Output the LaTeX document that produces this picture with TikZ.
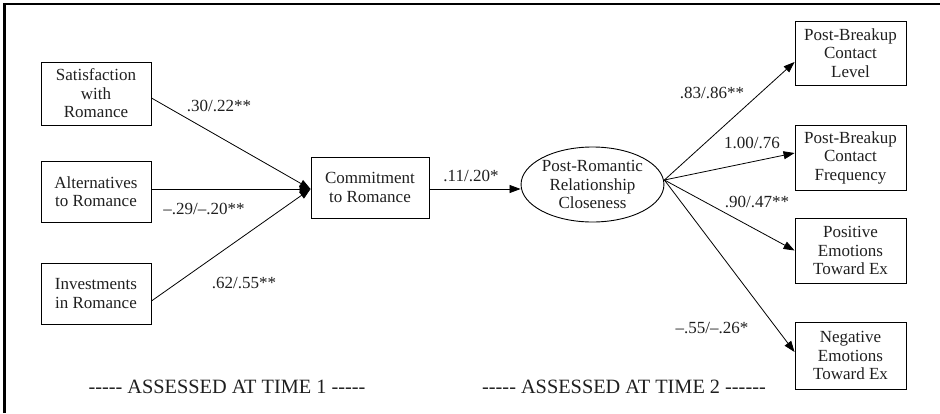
\documentclass[tikz,border=0pt]{standalone}
\usepackage{fontspec}
\setmainfont{Liberation Serif}
\usetikzlibrary{arrows.meta,shapes.geometric}
\newcommand{\hy}{-\kern0pt}
\newcommand{\fivehy}{\hy\hy\hy\hy\hy}
\begin{document}
\begin{tikzpicture}[x=1pt,y=-1pt,
  every node/.style={font=\fontsize{17}{18.5}\selectfont, text=black!88},
  box/.style={draw, line width=0.9pt, align=center, inner sep=0pt},
  lbl/.style={inner sep=0pt},
  note/.style={inner sep=0pt, font=\fontsize{20.3}{22}\selectfont},
  arr/.style={line width=0.8pt, -{Triangle[length=11pt,width=8pt]}}]
\useasboundingbox (0,0) rectangle (940,413);
\draw[line width=2.2pt] (4.5,413) -- (4.5,4) -- (940,4);
% left boxes
\node[box, minimum width=110pt, minimum height=63pt] (sat) at (96,93.5) {Satisfaction\\with\\Romance};
\node[box, minimum width=110pt, minimum height=61pt] (alt) at (96,191.5) {Alternatives\\to Romance};
\node[box, minimum width=110pt, minimum height=61pt] (inv) at (96,293.5) {Investments\\in Romance};
\node[box, minimum width=118pt, minimum height=61pt] (com) at (370,187.5) {Commitment\\to Romance};
\node[draw, ellipse, line width=0.9pt, inner sep=0pt, minimum width=139pt, minimum height=75pt, align=center] (ell) at (592.5,184.5) {Post-Romantic\\Relationship\\Closeness};
% right boxes
\node[box, minimum width=111pt, minimum height=64pt] (r1) at (850.5,53) {Post-Breakup\\Contact\\Level};
\node[box, minimum width=111pt, minimum height=65pt] (r2) at (850.5,157.5) {Post-Breakup\\Contact\\Frequency};
\node[box, minimum width=111pt, minimum height=65pt] (r3) at (850.5,250.5) {Positive\\Emotions\\Toward Ex};
\node[box, minimum width=111pt, minimum height=67pt] (r4) at (850.5,355.5) {Negative\\Emotions\\Toward Ex};
% connectors
\draw[arr] ([yshift=-4.5pt]sat.east) -- ([yshift=-1.5pt]com.west);
\draw[arr] ([yshift=2.5pt]alt.east) -- ([yshift=-1.5pt]com.west);
\draw[arr] ([yshift=-7.5pt]inv.east) -- ([yshift=-1.5pt]com.west);
\draw[arr] ([yshift=-1.5pt]com.east) -- ([yshift=-4.5pt]ell.west);
\coordinate (eo) at ([yshift=4.5pt]ell.east);
\draw[arr] (eo) -- ([yshift=-9pt]r1.west);
\draw[arr] (eo) -- ([yshift=4.5pt]r2.west);
\draw[arr] (eo) -- (r3.west);
\draw[arr] (eo) -- ([yshift=3.5pt]r4.west);
% labels
\node[lbl] (l1) at (219,106) {.30/.22**};
\node[lbl] (l2) at (204,209) {\textendash.29/\textendash.20**};
\node[lbl] (l3) at (244,283) {.62/.55**};
\node[lbl] (l4) at (471,176) {.11/.20*};
\node[lbl] (l5) at (712,93) {.83/.86**};
\node[lbl] (l6) at (752,143) {1.00/.76};
\node[lbl] (l7) at (757,202) {.90/.47**};
\node[lbl] (l8) at (712,328) {\textendash.55/\textendash.26*};
\node[note] (t1) at (227,387) {\fivehy{} ASSESSED AT TIME 1 \fivehy};
\node[note] (t2) at (624,387) {\fivehy{} ASSESSED AT TIME 2 \fivehy\hy};
\end{tikzpicture}
\end{document}
